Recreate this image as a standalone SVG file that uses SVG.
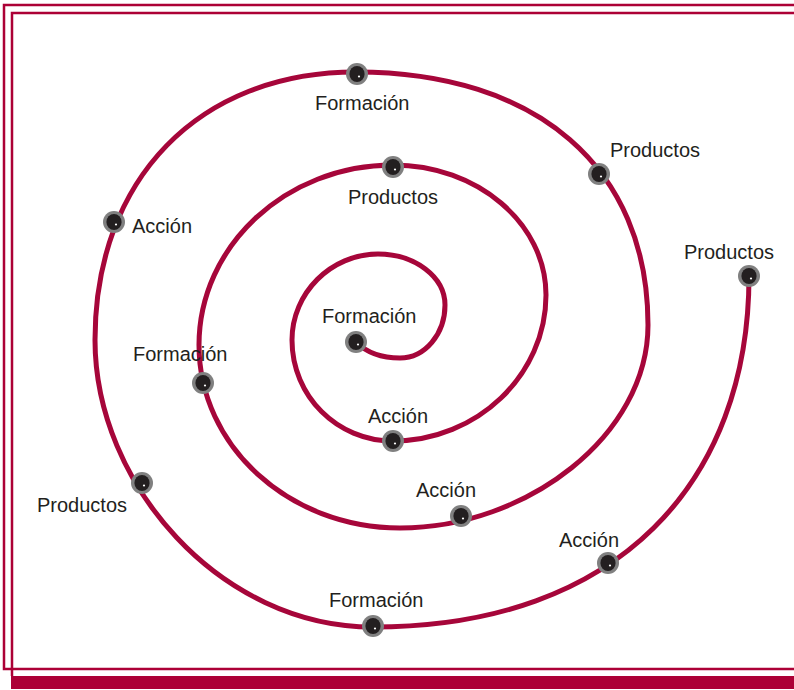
<svg xmlns="http://www.w3.org/2000/svg" width="794" height="690" viewBox="0 0 794 690">
<style>
.frame{fill:none;stroke:#AC0036;stroke-width:2.5}
.spiral{fill:none;stroke:#A6063A;stroke-width:5;stroke-linecap:round}
.ring{fill:#808080}
.core{fill:#231F20}
.glint{fill:#ffffff}
.lbl{font-family:"Liberation Sans",Arial,sans-serif;font-size:20px;fill:#231F20}
</style>
<defs>
<g id="dot">
<circle class="ring" r="11"/>
<ellipse class="core" rx="7.6" ry="8"/>
<circle class="glint" cx="2" cy="2.5" r="1.1"/>
</g>
</defs>
<rect width="794" height="690" fill="#ffffff"/>
<g id="frame">
<path class="frame" d="M800 5 H4 V669 H800"/>
<path class="frame" d="M800 13 H12 V676"/>
<rect x="11" y="676" width="790" height="13" fill="#AC0036"/>
</g>
<g id="connectors">
<path class="spiral" d="M356 342 C368 354 385 358 400 358 C425 358 445 334 445 305 C445 277 415 254 378 254 C331 254 292 293 292 340 C292 396 337 441 393 441 C477 441 546 375 546 295 C546 223 477 165 393 165 C286 165 199 246 199 345 C199 446 289 528 400 528 C527 528 648 435 648 325 C648 168 537 72 356 72 C199 72 95 179 95 340 C95 484 220 627 373 627 C620 627 749 480 749 276"/>
</g>
<g id="n1"><use href="#dot" x="356" y="342"/><text class="lbl" x="322" y="323">Formación</text></g>
<g id="n2"><use href="#dot" x="393" y="441"/><text class="lbl" x="368" y="423">Acción</text></g>
<g id="n3"><use href="#dot" x="393" y="167"/><text class="lbl" x="348" y="204">Productos</text></g>
<g id="n4"><use href="#dot" x="203" y="383"/><text class="lbl" x="133" y="361">Formación</text></g>
<g id="n5"><use href="#dot" x="461" y="516"/><text class="lbl" x="416" y="497">Acción</text></g>
<g id="n6"><use href="#dot" x="599" y="174"/><text class="lbl" x="610" y="157">Productos</text></g>
<g id="n7"><use href="#dot" x="357" y="74"/><text class="lbl" x="315" y="110">Formación</text></g>
<g id="n8"><use href="#dot" x="114" y="222"/><text class="lbl" x="132" y="233">Acción</text></g>
<g id="n9"><use href="#dot" x="142" y="483"/><text class="lbl" x="37" y="512">Productos</text></g>
<g id="n10"><use href="#dot" x="373" y="626"/><text class="lbl" x="329" y="607">Formación</text></g>
<g id="n11"><use href="#dot" x="608" y="563"/><text class="lbl" x="559" y="547">Acción</text></g>
<g id="n12"><use href="#dot" x="749" y="276"/><text class="lbl" x="684" y="259">Productos</text></g>
</svg>
